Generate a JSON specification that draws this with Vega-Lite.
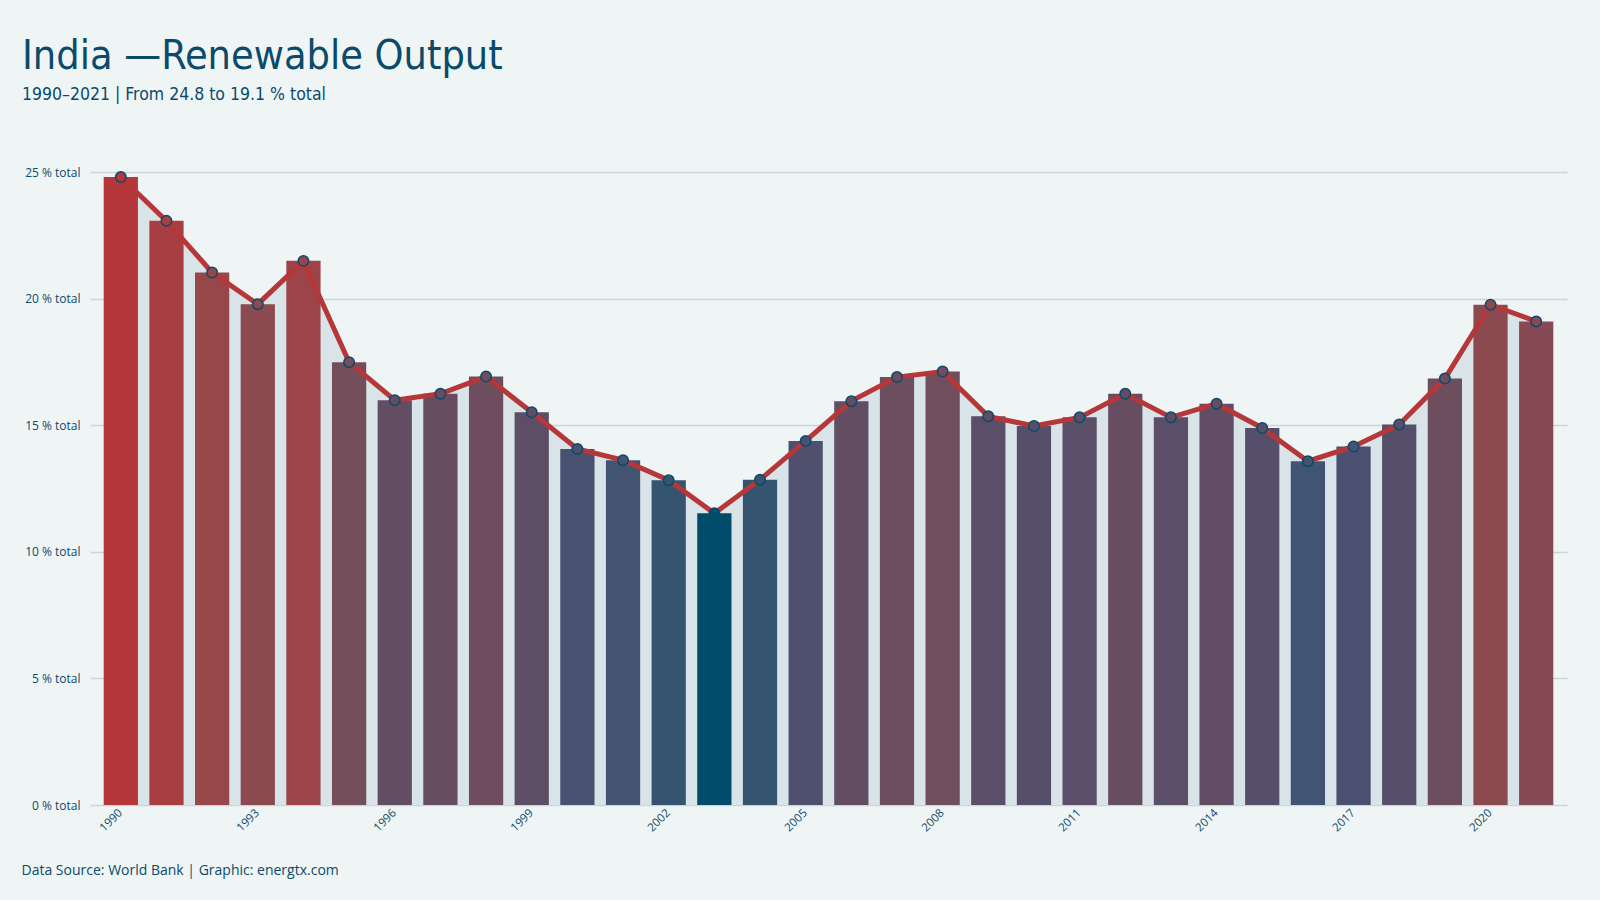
{
  "$schema": "https://vega.github.io/schema/vega-lite/v6.json",
  "width": 1477,
  "height": 633,
  "autosize": {"type": "none"},
  "padding": {"left": 90, "top": 172, "right": 33, "bottom": 95},
  "background": "#eff5f5",
  "config": {"view": {"stroke": null}},
  "title": {
    "text": "India —Renewable Output",
    "subtitle": "1990–2021 | From 24.8 to 19.1 % total",
    "anchor": "start",
    "frame": "group",
    "dx": -68,
    "offset": 62,
    "font": "DejaVu Sans Condensed, sans-serif",
    "fontSize": 41,
    "fontWeight": "normal",
    "color": "#0b4a6b",
    "subtitleFont": "DejaVu Sans Condensed, sans-serif",
    "subtitleFontSize": 17.5,
    "subtitleColor": "#0b4a6b",
    "subtitlePadding": 8
  },
  "data": {
    "values": [
      {"year": 1990, "value": 24.8},
      {"year": 1991, "value": 23.07},
      {"year": 1992, "value": 21.03},
      {"year": 1993, "value": 19.78},
      {"year": 1994, "value": 21.49},
      {"year": 1995, "value": 17.49},
      {"year": 1996, "value": 15.99},
      {"year": 1997, "value": 16.24},
      {"year": 1998, "value": 16.92},
      {"year": 1999, "value": 15.51},
      {"year": 2000, "value": 14.06},
      {"year": 2001, "value": 13.62},
      {"year": 2002, "value": 12.83},
      {"year": 2003, "value": 11.52},
      {"year": 2004, "value": 12.85},
      {"year": 2005, "value": 14.38},
      {"year": 2006, "value": 15.95},
      {"year": 2007, "value": 16.9},
      {"year": 2008, "value": 17.12},
      {"year": 2009, "value": 15.35},
      {"year": 2010, "value": 14.97},
      {"year": 2011, "value": 15.31},
      {"year": 2012, "value": 16.24},
      {"year": 2013, "value": 15.31},
      {"year": 2014, "value": 15.85},
      {"year": 2015, "value": 14.89},
      {"year": 2016, "value": 13.58},
      {"year": 2017, "value": 14.16},
      {"year": 2018, "value": 15.03},
      {"year": 2019, "value": 16.84},
      {"year": 2020, "value": 19.76},
      {"year": 2021, "value": 19.1}
    ]
  },
  "encoding": {
    "x": {
      "field": "year",
      "type": "ordinal",
      "scale": {"paddingInner": 0.25, "paddingOuter": 0.3},
      "axis": {
        "labelAngle": -45,
        "labelAlign": "right",
        "labelBaseline": "middle",
        "labelExpr": "(datum.value - 1990) % 3 == 0 ? datum.value : ''",
        "labelFont": "Open Sans, sans-serif",
        "labelFontSize": 11.5,
        "labelColor": "#0b4a6b",
        "labelPadding": 6,
        "ticks": false,
        "domain": false,
        "grid": false,
        "title": "Data Source: World Bank | Graphic: energtx.com",
        "titleFont": "Open Sans, sans-serif",
        "titleFontSize": 14,
        "titleFontWeight": "normal",
        "titleColor": "#0b4a6b",
        "titleAnchor": "start",
        "titleAlign": "left",
        "titleBaseline": "alphabetic",
        "titleX": -69,
        "titleY": 69
      }
    },
    "y": {
      "field": "value",
      "type": "quantitative",
      "scale": {"domain": [0, 25], "nice": false},
      "axis": {
        "values": [0, 5, 10, 15, 20, 25],
        "labelExpr": "datum.value + ' % total'",
        "labelFont": "Open Sans, sans-serif",
        "labelFontSize": 12,
        "labelColor": "#0b4a6b",
        "labelPadding": 10,
        "ticks": false,
        "domain": false,
        "grid": true,
        "gridColor": "#c9d7dc",
        "gridWidth": 1.5,
        "title": null
      }
    }
  },
  "layer": [
    {
      "mark": {"type": "area", "color": "#d8e4e8"},
      "encoding": {}
    },
    {
      "mark": {"type": "bar"},
      "encoding": {
        "color": {
          "field": "value",
          "type": "quantitative",
          "scale": {
            "domain": [11.52, 12.83, 13.58, 14.16, 15.99, 17.49, 19.1, 19.76, 21.49, 24.8],
            "range": ["#004a6a", "#35546f", "#425473", "#4b5070", "#634d63", "#744e5b", "#874a55", "#8b4a50", "#9c4448", "#b5373a"],
            "interpolate": "rgb"
          },
          "legend": null
        }
      }
    },
    {
      "mark": {"type": "line", "color": "#b5373a", "strokeWidth": 5},
      "encoding": {}
    },
    {
      "mark": {"type": "point", "filled": true, "size": 110, "stroke": "#0b4a6b", "strokeWidth": 1.5, "opacity": 1},
      "encoding": {
        "color": {
          "field": "value",
          "type": "quantitative",
          "scale": {
            "domain": [11.52, 12.83, 13.58, 14.16, 15.99, 17.49, 19.1, 19.76, 21.49, 24.8],
            "range": ["#004a6a", "#35546f", "#425473", "#4b5070", "#634d63", "#744e5b", "#874a55", "#8b4a50", "#9c4448", "#b5373a"],
            "interpolate": "rgb"
          },
          "legend": null
        }
      }
    }
  ]
}
